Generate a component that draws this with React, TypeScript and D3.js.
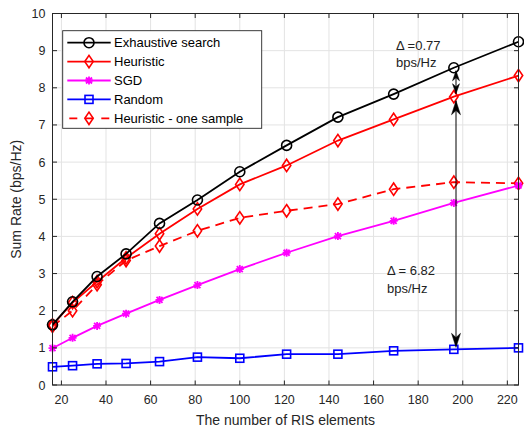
import React from "react";
import * as d3 from "d3";

const N = [16, 25, 36, 49, 64, 81, 100, 121, 144, 169, 196, 225];
const exhaustive = [1.62, 2.24, 2.92, 3.53, 4.35, 4.98, 5.74, 6.45, 7.21, 7.83, 8.54, 9.24];
const heuristic = [1.62, 2.22, 2.78, 3.42, 4.07, 4.74, 5.4, 5.91, 6.58, 7.15, 7.76, 8.33];
const sgd = [0.99, 1.27, 1.59, 1.92, 2.29, 2.69, 3.12, 3.56, 4.01, 4.42, 4.9, 5.37];
const randomRIS = [0.49, 0.52, 0.57, 0.58, 0.63, 0.75, 0.72, 0.83, 0.83, 0.92, 0.96, 1.0];
const oneSample = [1.58, 2.0, 2.7, 3.35, 3.74, 4.15, 4.5, 4.69, 4.87, 5.27, 5.46, 5.43];

const xTicks = [20, 40, 60, 80, 100, 120, 140, 160, 180, 200, 220];
const yTicks = [0, 1, 2, 3, 4, 5, 6, 7, 8, 9, 10];

const seriesNames = ["Exhaustive search", "Heuristic", "SGD", "Random", "Heuristic - one sample"];

type Marker = "circle" | "diamond" | "star" | "square";

const W = 524, H = 427;
const L = 52.5, R = 518.5, T = 13.5, B = 385;
const FONT = "'Liberation Sans', Arial, Helvetica, sans-serif";
const AX = "#262626";

const x = d3.scaleLinear().domain([16, 225]).range([L, R]);
const y = d3.scaleLinear().domain([0, 10]).range([B, T]);

function MarkerShape({ type, cx, cy, color }: { type: Marker; cx: number; cy: number; color: string }) {
  if (type === "circle") return <circle cx={cx} cy={cy} r={5} fill="none" stroke={color} strokeWidth={1.6} />;
  if (type === "diamond") {
    const a = 4.2, b = 6.2;
    return <path d={`M${cx},${cy - b}L${cx + a},${cy}L${cx},${cy + b}L${cx - a},${cy}Z`} fill="none" stroke={color} strokeWidth={1.6} />;
  }
  if (type === "square") {
    const s = 4;
    return <rect x={cx - s} y={cy - s} width={2 * s} height={2 * s} fill="none" stroke={color} strokeWidth={1.6} />;
  }
  const s = 4;
  const d = s * 0.75;
  return (
    <path
      d={`M${cx - s},${cy}L${cx + s},${cy}M${cx},${cy - s}L${cx},${cy + s}M${cx - d},${cy - d}L${cx + d},${cy + d}M${cx - d},${cy + d}L${cx + d},${cy - d}`}
      stroke={color}
      strokeWidth={1.8}
      fill="none"
    />
  );
}

function Head({ tx, ty, dir, w = 9, len = 14 }: { tx: number; ty: number; dir: 1 | -1; w?: number; len?: number }) {
  // dir 1 = pointing up (tip at ty, body below)
  const b = ty + dir * len;
  const n = ty + dir * len * 0.7;
  return <path d={`M${tx},${ty}L${tx - w / 2},${b}L${tx},${n}L${tx + w / 2},${b}Z`} fill="#000" stroke="#000" strokeWidth={0.5} />;
}

export default function App() {
  const series: { name: string; values: number[]; color: string; marker: Marker; dash?: string }[] = [
    { name: seriesNames[0], values: exhaustive, color: "#000000", marker: "circle" },
    { name: seriesNames[1], values: heuristic, color: "#ff0000", marker: "diamond" },
    { name: seriesNames[2], values: sgd, color: "#ff00ff", marker: "star" },
    { name: seriesNames[3], values: randomRIS, color: "#0000ff", marker: "square" },
    { name: seriesNames[4], values: oneSample, color: "#ff0000", marker: "diamond", dash: "9,6" },
  ];
  const line = d3.line<[number, number]>().x((d) => x(d[0])).y((d) => y(d[1]));
  const drawOrder = [4, 3, 2, 1, 0];

  const ax = 456;
  const yEx = y(exhaustive[10]);
  const yHe = y(heuristic[10]);
  const yRa = y(randomRIS[10]);

  const legX = 62.7, legY = 30.7, legW = 199, legH = 97.6;
  const legRow = (i: number) => 42.7 + i * 18.9;

  return (
    <div style={{ position: "fixed", left: 0, top: 0 }}>
      <svg width={W} height={H} style={{ display: "block", background: "#fff" }} fontFamily={FONT}>
        <rect x={0} y={0} width={W} height={H} fill="#fff" />
        {/* grid */}
        {xTicks.map((t) => (
          <line key={"gx" + t} x1={x(t)} x2={x(t)} y1={T} y2={B} stroke="#e3e3e3" strokeWidth={1} />
        ))}
        {yTicks.map((t) => (
          <line key={"gy" + t} x1={L} x2={R} y1={y(t)} y2={y(t)} stroke="#e3e3e3" strokeWidth={1} />
        ))}
        {/* series */}
        {drawOrder.map((i) => {
          const s = series[i];
          const pts = N.map((n, k) => [n, s.values[k]] as [number, number]);
          return (
            <g key={s.name}>
              <path d={line(pts) || ""} fill="none" stroke={s.color} strokeWidth={1.8} strokeDasharray={s.dash} />
              {pts.map((p, k) => (
                <MarkerShape key={k} type={s.marker} cx={x(p[0])} cy={y(p[1])} color={s.color} />
              ))}
            </g>
          );
        })}
        {/* axes box */}
        <rect x={L} y={T} width={R - L} height={B - T} fill="none" stroke={AX} strokeWidth={1} />
        {xTicks.map((t) => (
          <g key={"tx" + t}>
            <line x1={x(t)} x2={x(t)} y1={B} y2={B - 4.5} stroke={AX} />
            <line x1={x(t)} x2={x(t)} y1={T} y2={T + 4.5} stroke={AX} />
            <text x={x(t)} y={B + 19} fontSize={12.5} textAnchor="middle" fill={AX}>
              {t}
            </text>
          </g>
        ))}
        {yTicks.map((t) => (
          <g key={"ty" + t}>
            <line x1={L} x2={L + 4.5} y1={y(t)} y2={y(t)} stroke={AX} />
            <line x1={R} x2={R - 4.5} y1={y(t)} y2={y(t)} stroke={AX} />
            <text x={L - 7} y={y(t) + 4.5} fontSize={12.5} textAnchor="end" fill={AX}>
              {t}
            </text>
          </g>
        ))}
        <text x={(L + R) / 2} y={425} fontSize={14} textAnchor="middle" fill={AX}>
          The number of RIS elements
        </text>
        <text transform={`translate(21,${(T + B) / 2}) rotate(-90)`} fontSize={14} textAnchor="middle" fill={AX}>
          Sum Rate (bps/Hz)
        </text>

        {/* annotations */}
        <line x1={ax} x2={ax} y1={yHe + 4} y2={yRa - 4} stroke="#000" strokeWidth={1} />
        <Head tx={ax} ty={yHe + 4} dir={1} w={9} len={14} />
        <Head tx={ax} ty={yRa - 2} dir={-1} w={9} len={14} />
        <line x1={ax} x2={ax} y1={yEx + 3} y2={yHe - 3} stroke="#000" strokeWidth={1} />
        <Head tx={ax} ty={yEx + 3} dir={1} w={7} len={10} />
        <Head tx={ax} ty={yHe - 3} dir={-1} w={7} len={10} />
        <text x={396} y={50} fontSize={13} fill="#222">
          Δ =0.77
        </text>
        <text x={396} y={67} fontSize={13} fill="#222">
          bps/Hz
        </text>
        <text x={387} y={275} fontSize={13} fill="#222">
          Δ = 6.82
        </text>
        <text x={387} y={293} fontSize={13} fill="#222">
          bps/Hz
        </text>

        {/* legend */}
        <rect x={legX} y={legY} width={legW} height={legH} fill="#fff" stroke={AX} strokeWidth={0.9} />
        {series.map((s, i) => (
          <g key={"lg" + i}>
            <line x1={67.3} x2={110.7} y1={legRow(i)} y2={legRow(i)} stroke={s.color} strokeWidth={1.8} strokeDasharray={s.dash ? "8,8" : undefined} strokeDashoffset={s.dash ? -2 : 0} />
            <MarkerShape type={s.marker} cx={89} cy={legRow(i)} color={s.color} />
            <text x={114} y={legRow(i) + 4.6} fontSize={13} fill="#000">
              {s.name}
            </text>
          </g>
        ))}
      </svg>
    </div>
  );
}
